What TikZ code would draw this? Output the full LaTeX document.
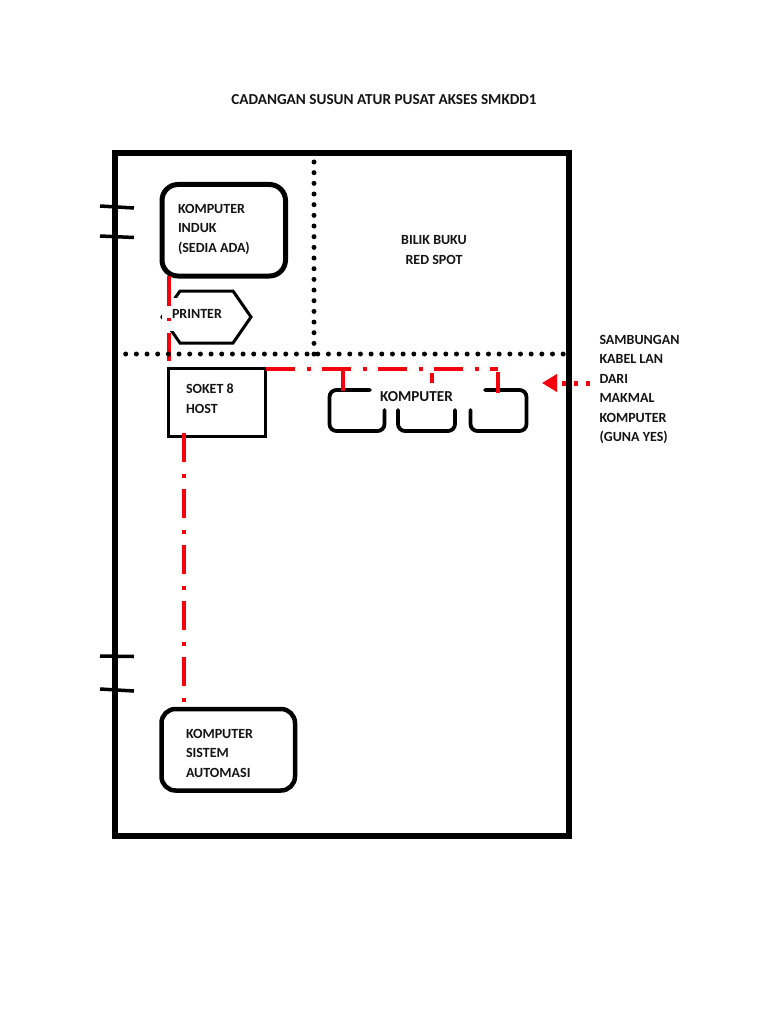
\documentclass[tikz,border=0pt]{standalone}
\usepackage{fontspec}
\setmainfont{Carlito}
\usetikzlibrary{arrows.meta}
\definecolor{lanred}{RGB}{245,0,12}
\tikzset{
  txt/.style={font=\bfseries\fontsize{14}{19.5}\selectfont, inner sep=0pt, outer sep=0pt, align=left, text=black!92},
  bigtxt/.style={font=\bfseries\fontsize{15.2}{19.5}\selectfont, inner sep=0pt, outer sep=0pt, align=left, text=black!92},
  roundbox/.style={draw=black, fill=white, line width=#1, rounded corners=16pt, outer sep=0pt, inner sep=0pt},
  sqbox/.style={draw=black, fill=white, line width=3.8pt, outer sep=0pt, inner sep=0pt},
  tick/.style={draw=black, line width=3.5pt},
  redline/.style={draw=lanred, line width=4pt},
  dashdot/.style={redline, dash pattern=on 29pt off 12pt on 4pt off 11pt},
  dots/.style={draw=black, line width=5pt, line cap=round, dash pattern=on 0pt off 10.67pt},
  partline/.style={draw=black, line width=3.8pt, rounded corners=7pt, line cap=round},
}
\begin{document}
\begin{tikzpicture}[x=1pt,y=-1pt]
\useasboundingbox (0,0) rectangle (768,1024);
\fill[white] (0,0) rectangle (768,1024);

% title
\node[bigtxt, anchor=center] (title) at (384,100) {CADANGAN SUSUN ATUR PUSAT AKSES SMKDD1};

% arrow (frame passes over it)
\coordinate (lanstart) at (590,383);
\coordinate (lanend) at (542,383);
\draw[draw=lanred, line width=5pt, dash pattern=on 4pt off 8pt, -{Triangle[length=15pt,width=17pt,fill=lanred]}] (lanstart) -- (lanend);

% outer frame
\node[draw=black, line width=6pt, minimum width=454.8pt, minimum height=683pt, outer sep=0pt, inner sep=0pt] (frame) at (341.9,494.5) {};

% ticks (doors)
\coordinate (t1a) at (100,206); \coordinate (t1b) at (134,208);
\coordinate (t2a) at (100,236); \coordinate (t2b) at (134,237.5);
\coordinate (t3a) at (100,656); \coordinate (t3b) at (134,656.5);
\coordinate (t4a) at (100,689); \coordinate (t4b) at (134,691);
\draw[tick] (t1a) -- (t1b);
\draw[tick] (t2a) -- (t2b);
\draw[tick] (t3a) -- (t3b);
\draw[tick] (t4a) -- (t4b);

% boxes
\node[roundbox=5pt, minimum width=123.5pt, minimum height=91.5pt] (induk) at (223.75,230.25) {};
\node[sqbox, minimum width=97pt, minimum height=68pt] (soket) at (217,402.5) {};
\node[roundbox=4.5pt, rounded corners=14pt, minimum width=133.5pt, minimum height=81.5pt] (automasi) at (228.25,749.75) {};

% printer
\draw[black, line width=3pt, line join=miter] (180,291) -- (233,291) -- (251,317) -- (233,343) -- (180,343) -- (162,317) -- cycle;
\fill[white] (162,298) rectangle (222,331);

% komputer outline pieces
\draw[partline] (370,390) -- (329.5,390) -- (329.5,431) -- (384.5,431) -- (384.5,410);
\draw[partline] (398,410) -- (398,431) -- (455,431) -- (455,410);
\draw[partline] (470.5,410) -- (470.5,431) -- (526.5,431) -- (526.5,390) -- (485,390);

% red connectors
\coordinate (hubstart) at (soket.north east);
\coordinate (hubend) at (498,368.5);
\coordinate (dropa) at (342.5,368.5); \coordinate (dropaend) at (342.5,391);
\coordinate (dropb) at (432,373); \coordinate (dropbend) at (432,383);
\coordinate (dropc) at (498,372); \coordinate (dropcend) at (498,393);
\coordinate (autotop) at (184,702);
\draw[redline, dash pattern=on 30pt off 12pt on 3pt off 12pt on 28pt off 20pt] (induk.south -| soket.west) -- (soket.north west);
\draw[dashdot] (hubstart) -- (hubend);
\draw[redline] (dropa) -- (dropaend);
\draw[redline] (dropb) -- (dropbend);
\draw[redline] (dropc) -- (dropcend);
\draw[dashdot] (184,433) -- (autotop);

% dotted partitions
\coordinate (dv1) at (314,162); \coordinate (dv2) at (314,355);
\coordinate (dh1) at (125.7,354); \coordinate (dh2) at (565,354);
\draw[dots] (dv1) -- (dv2);
\draw[dots] (dh1) -- (dh2);

% labels
\node[txt, anchor=west] (lInduk) at (178,229) {KOMPUTER\\INDUK\\(SEDIA ADA)};
\node[txt, anchor=west] (lPrinter) at (172,314) {PRINTER};
\node[txt, anchor=west] (lSoket) at (186,398.5) {SOKET 8\\HOST};
\node[txt, anchor=center, align=center] (lBilik) at (434,250) {BILIK BUKU\\RED SPOT};
\node[bigtxt, anchor=center] (lKomp) at (416.5,397) {KOMPUTER};
\node[txt, anchor=west] (lAuto) at (186,753) {KOMPUTER\\SISTEM\\AUTOMASI};
\node[txt, anchor=west] (lLan) at (599.5,389.5) {SAMBUNGAN\\KABEL LAN\\DARI\\MAKMAL\\KOMPUTER\\(GUNA YES)};
\end{tikzpicture}
\end{document}
